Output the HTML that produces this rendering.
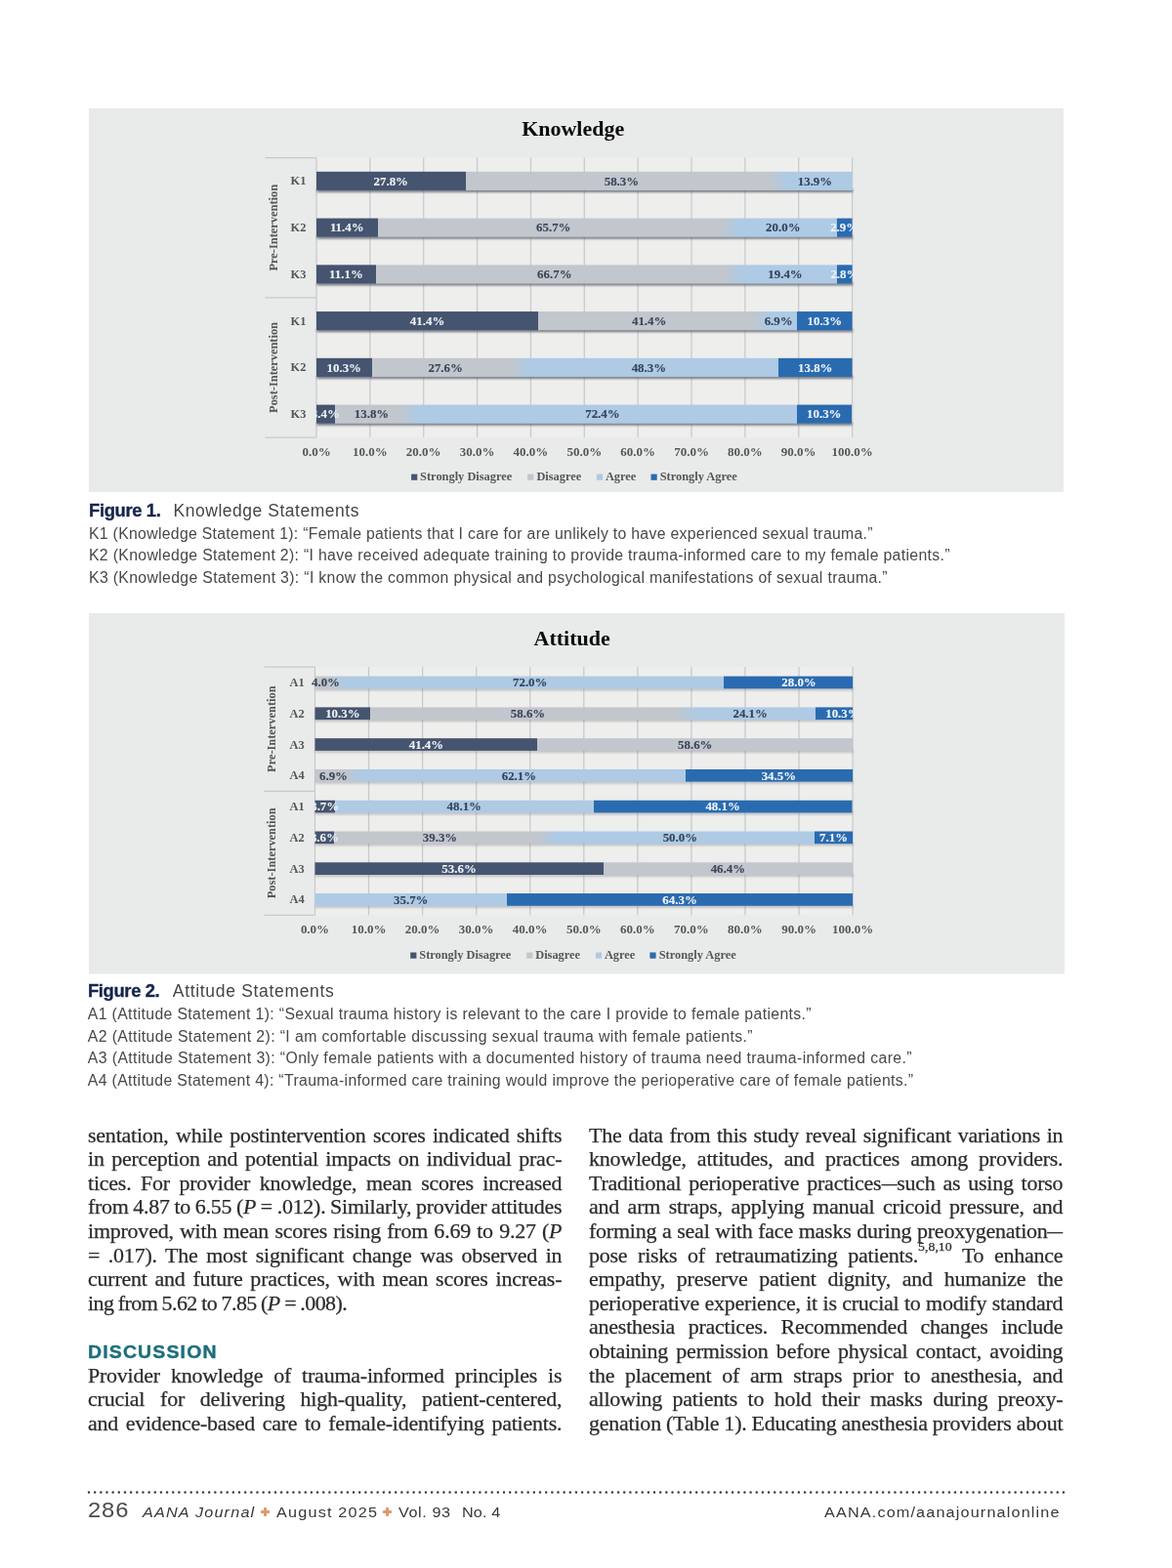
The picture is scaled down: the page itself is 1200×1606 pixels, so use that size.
<!DOCTYPE html>
<html lang="en">
<head>
<meta charset="utf-8">
<title>AANA Journal - Figures 1 and 2</title>
<style>
html,body{margin:0;padding:0;background:#fff;}
figure,figcaption,main,footer{display:block;margin:0;padding:0;position:static;}
body{width:1200px;height:1606px;position:relative;overflow:hidden;font-family:"Liberation Serif", serif;}
.chart{position:absolute;display:block;filter:blur(0.45px);}
.b{position:absolute;transform:scaleX(1.045);transform-origin:0 0;white-space:pre;font-family:"Liberation Serif", serif;font-size:21px;letter-spacing:-0.2px;line-height:24px;color:#2b2b2b;-webkit-text-stroke:0.25px #2b2b2b;}
sup{font-size:0.63em;vertical-align:baseline;position:relative;top:-0.9em;line-height:0;letter-spacing:0}.md{display:inline-block;transform:scaleX(0.72);margin:0 -0.14em;letter-spacing:0}
.h{position:absolute;transform:scaleX(1.04);transform-origin:0 0;white-space:pre;font-family:"Liberation Sans", sans-serif;font-weight:bold;font-size:18.7px;line-height:20px;color:#1d6f7a;-webkit-text-stroke:0.4px #1d6f7a;}
.c{position:absolute;white-space:pre;font-family:"Liberation Sans", sans-serif;font-size:15.8px;line-height:18px;color:#484848;}
.ft{position:absolute;white-space:pre;font-family:"Liberation Sans", sans-serif;line-height:22px;}
.dots{position:absolute;left:0;top:1524px;width:1200px;height:9px;display:block;}
.plus{position:absolute;width:9px;height:9px;}
.plus:before,.plus:after{content:"";position:absolute;background:#dd9a6e;border-radius:0.8px;}
.plus:before{left:3.1px;top:0;width:2.8px;height:9px;}
.plus:after{left:0;top:3.1px;width:9px;height:2.8px;}
</style>
</head>
<body>
<figure>
<svg class="chart" style="left:90.5px;top:111px" width="998.5" height="393" viewBox="90.5 111 998.5 393" font-family='"Liberation Serif", serif' font-weight="bold" font-size="12.4">
<defs><clipPath id="clipK"><rect x="90.5" y="111" width="783.2" height="393"/></clipPath><clipPath id="clipwK"><rect x="322.9" y="111" width="550.8" height="393"/></clipPath><filter id="shK" x="-5%" y="-100%" width="110%" height="300%"><feGaussianBlur stdDeviation="0.8"/></filter></defs>
<rect x="90.5" y="111" width="998.5" height="393" fill="#e9eaea"/>
<rect x="323.5" y="161.5" width="548.6" height="286.5" fill="#eeeeed"/>
<text x="586.2" y="139.3" font-size="22" text-anchor="middle" fill="#0c0c0c">Knowledge</text>
<line x1="323.5" y1="161.5" x2="323.5" y2="448" stroke="#c8c9c9" stroke-width="1.25"/>
<text x="323.5" y="466.7" font-size="13" text-anchor="middle" fill="#555657">0.0%</text>
<line x1="378.36" y1="161.5" x2="378.36" y2="448" stroke="#c8c9c9" stroke-width="1.25"/>
<text x="378.36" y="466.7" font-size="13" text-anchor="middle" fill="#555657">10.0%</text>
<line x1="433.22" y1="161.5" x2="433.22" y2="448" stroke="#c8c9c9" stroke-width="1.25"/>
<text x="433.22" y="466.7" font-size="13" text-anchor="middle" fill="#555657">20.0%</text>
<line x1="488.08" y1="161.5" x2="488.08" y2="448" stroke="#c8c9c9" stroke-width="1.25"/>
<text x="488.08" y="466.7" font-size="13" text-anchor="middle" fill="#555657">30.0%</text>
<line x1="542.94" y1="161.5" x2="542.94" y2="448" stroke="#c8c9c9" stroke-width="1.25"/>
<text x="542.94" y="466.7" font-size="13" text-anchor="middle" fill="#555657">40.0%</text>
<line x1="597.8" y1="161.5" x2="597.8" y2="448" stroke="#c8c9c9" stroke-width="1.25"/>
<text x="597.8" y="466.7" font-size="13" text-anchor="middle" fill="#555657">50.0%</text>
<line x1="652.66" y1="161.5" x2="652.66" y2="448" stroke="#c8c9c9" stroke-width="1.25"/>
<text x="652.66" y="466.7" font-size="13" text-anchor="middle" fill="#555657">60.0%</text>
<line x1="707.52" y1="161.5" x2="707.52" y2="448" stroke="#c8c9c9" stroke-width="1.25"/>
<text x="707.52" y="466.7" font-size="13" text-anchor="middle" fill="#555657">70.0%</text>
<line x1="762.38" y1="161.5" x2="762.38" y2="448" stroke="#c8c9c9" stroke-width="1.25"/>
<text x="762.38" y="466.7" font-size="13" text-anchor="middle" fill="#555657">80.0%</text>
<line x1="817.24" y1="161.5" x2="817.24" y2="448" stroke="#c8c9c9" stroke-width="1.25"/>
<text x="817.24" y="466.7" font-size="13" text-anchor="middle" fill="#555657">90.0%</text>
<line x1="872.1" y1="161.5" x2="872.1" y2="448" stroke="#c8c9c9" stroke-width="1.25"/>
<text x="872.1" y="466.7" font-size="13" text-anchor="middle" fill="#555657">100.0%</text>
<line x1="271" y1="161.5" x2="323.5" y2="161.5" stroke="#c8c9c9" stroke-width="1.25"/>
<line x1="271" y1="304.9" x2="323.5" y2="304.9" stroke="#c8c9c9" stroke-width="1.25"/>
<line x1="271" y1="448" x2="323.5" y2="448" stroke="#c8c9c9" stroke-width="1.25"/>
<text transform="translate(283 233.2) rotate(-90)" text-anchor="middle" fill="#555657">Pre-Intervention</text>
<text transform="translate(283 376.45) rotate(-90)" text-anchor="middle" fill="#555657">Post-Intervention</text>
<text x="305" y="189.47" text-anchor="middle" fill="#555657">K1</text>
<rect x="324" y="193.92" width="548.6" height="2.9" fill="#5d6370" opacity="0.9" filter="url(#shK)"/>
<linearGradient id="gK0" gradientUnits="userSpaceOnUse" x1="323.5" y1="0" x2="872.1" y2="0"><stop offset="0.0000" stop-color="#45546f"/><stop offset="0.2780" stop-color="#45546f"/><stop offset="0.2780" stop-color="#c2c6cd"/><stop offset="0.8446" stop-color="#c2c6cd"/><stop offset="0.8774" stop-color="#aecae4"/><stop offset="1.0000" stop-color="#aecae4"/></linearGradient>
<rect x="323.5" y="175.82" width="548.6" height="19.1" fill="url(#gK0)"/>
<g clip-path="url(#clipK)" font-size="12.9" text-anchor="middle" stroke-width="0.12">
<text x="635.93" y="189.68" fill="#3b4658" stroke="#3b4658">58.3%</text>
<text x="833.97" y="189.68" fill="#34445c" stroke="#34445c">13.9%</text>
</g>
<g clip-path="url(#clipwK)" font-size="12.9" text-anchor="middle" stroke-width="0.12">
<text x="399.76" y="189.68" fill="#eef1f6" stroke="#eef1f6">27.8%</text>
</g>
<text x="305" y="237.22" text-anchor="middle" fill="#555657">K2</text>
<rect x="324" y="241.67" width="548.6" height="2.9" fill="#5d6370" opacity="0.9" filter="url(#shK)"/>
<linearGradient id="gK1" gradientUnits="userSpaceOnUse" x1="323.5" y1="0" x2="872.1" y2="0"><stop offset="0.0000" stop-color="#45546f"/><stop offset="0.1140" stop-color="#45546f"/><stop offset="0.1140" stop-color="#c2c6cd"/><stop offset="0.7546" stop-color="#c2c6cd"/><stop offset="0.7874" stop-color="#aecae4"/><stop offset="0.9710" stop-color="#aecae4"/><stop offset="0.9710" stop-color="#2a6bb0"/><stop offset="1.0000" stop-color="#2a6bb0"/></linearGradient>
<rect x="323.5" y="223.57" width="548.6" height="19.1" fill="url(#gK1)"/>
<g clip-path="url(#clipK)" font-size="12.9" text-anchor="middle" stroke-width="0.12">
<text x="566.26" y="237.43" fill="#3b4658" stroke="#3b4658">65.7%</text>
<text x="801.33" y="237.43" fill="#34445c" stroke="#34445c">20.0%</text>
</g>
<g clip-path="url(#clipwK)" font-size="12.9" text-anchor="middle" stroke-width="0.12">
<text x="354.77" y="237.43" fill="#eef1f6" stroke="#eef1f6">11.4%</text>
<text x="864.15" y="237.43" fill="#eef4fc" stroke="#eef4fc">2.9%</text>
</g>
<text x="305" y="284.98" text-anchor="middle" fill="#555657">K3</text>
<rect x="324" y="289.43" width="548.6" height="2.9" fill="#5d6370" opacity="0.9" filter="url(#shK)"/>
<linearGradient id="gK2" gradientUnits="userSpaceOnUse" x1="323.5" y1="0" x2="872.1" y2="0"><stop offset="0.0000" stop-color="#45546f"/><stop offset="0.1110" stop-color="#45546f"/><stop offset="0.1110" stop-color="#c2c6cd"/><stop offset="0.7616" stop-color="#c2c6cd"/><stop offset="0.7944" stop-color="#aecae4"/><stop offset="0.9720" stop-color="#aecae4"/><stop offset="0.9720" stop-color="#2a6bb0"/><stop offset="1.0000" stop-color="#2a6bb0"/></linearGradient>
<rect x="323.5" y="271.32" width="548.6" height="19.1" fill="url(#gK2)"/>
<g clip-path="url(#clipK)" font-size="12.9" text-anchor="middle" stroke-width="0.12">
<text x="567.35" y="285.18" fill="#3b4658" stroke="#3b4658">66.7%</text>
<text x="803.53" y="285.18" fill="#34445c" stroke="#34445c">19.4%</text>
</g>
<g clip-path="url(#clipwK)" font-size="12.9" text-anchor="middle" stroke-width="0.12">
<text x="353.95" y="285.18" fill="#eef1f6" stroke="#eef1f6">11.1%</text>
<text x="864.42" y="285.18" fill="#eef4fc" stroke="#eef4fc">2.8%</text>
</g>
<text x="305" y="332.73" text-anchor="middle" fill="#555657">K1</text>
<rect x="324" y="337.18" width="548.6" height="2.9" fill="#5d6370" opacity="0.9" filter="url(#shK)"/>
<linearGradient id="gK3" gradientUnits="userSpaceOnUse" x1="323.5" y1="0" x2="872.1" y2="0"><stop offset="0.0000" stop-color="#45546f"/><stop offset="0.4140" stop-color="#45546f"/><stop offset="0.4140" stop-color="#c2c6cd"/><stop offset="0.8116" stop-color="#c2c6cd"/><stop offset="0.8444" stop-color="#aecae4"/><stop offset="0.8970" stop-color="#aecae4"/><stop offset="0.8970" stop-color="#2a6bb0"/><stop offset="1.0000" stop-color="#2a6bb0"/></linearGradient>
<rect x="323.5" y="319.07" width="548.6" height="19.1" fill="url(#gK3)"/>
<g clip-path="url(#clipK)" font-size="12.9" text-anchor="middle" stroke-width="0.12">
<text x="664.18" y="332.93" fill="#3b4658" stroke="#3b4658">41.4%</text>
<text x="796.67" y="332.93" fill="#34445c" stroke="#34445c">6.9%</text>
</g>
<g clip-path="url(#clipwK)" font-size="12.9" text-anchor="middle" stroke-width="0.12">
<text x="437.06" y="332.93" fill="#eef1f6" stroke="#eef1f6">41.4%</text>
<text x="843.85" y="332.93" fill="#eef4fc" stroke="#eef4fc">10.3%</text>
</g>
<text x="305" y="380.48" text-anchor="middle" fill="#555657">K2</text>
<rect x="324" y="384.93" width="548.6" height="2.9" fill="#5d6370" opacity="0.9" filter="url(#shK)"/>
<linearGradient id="gK4" gradientUnits="userSpaceOnUse" x1="323.5" y1="0" x2="872.1" y2="0"><stop offset="0.0000" stop-color="#45546f"/><stop offset="0.1030" stop-color="#45546f"/><stop offset="0.1030" stop-color="#c2c6cd"/><stop offset="0.3626" stop-color="#c2c6cd"/><stop offset="0.3954" stop-color="#aecae4"/><stop offset="0.8620" stop-color="#aecae4"/><stop offset="0.8620" stop-color="#2a6bb0"/><stop offset="1.0000" stop-color="#2a6bb0"/></linearGradient>
<rect x="323.5" y="366.82" width="548.6" height="19.1" fill="url(#gK4)"/>
<g clip-path="url(#clipK)" font-size="12.9" text-anchor="middle" stroke-width="0.12">
<text x="455.71" y="380.68" fill="#3b4658" stroke="#3b4658">27.6%</text>
<text x="663.91" y="380.68" fill="#34445c" stroke="#34445c">48.3%</text>
</g>
<g clip-path="url(#clipwK)" font-size="12.9" text-anchor="middle" stroke-width="0.12">
<text x="351.75" y="380.68" fill="#eef1f6" stroke="#eef1f6">10.3%</text>
<text x="834.25" y="380.68" fill="#eef4fc" stroke="#eef4fc">13.8%</text>
</g>
<text x="305" y="428.23" text-anchor="middle" fill="#555657">K3</text>
<rect x="324" y="432.68" width="548.05" height="2.9" fill="#5d6370" opacity="0.9" filter="url(#shK)"/>
<linearGradient id="gK5" gradientUnits="userSpaceOnUse" x1="323.5" y1="0" x2="871.55" y2="0"><stop offset="0.0000" stop-color="#45546f"/><stop offset="0.0340" stop-color="#45546f"/><stop offset="0.0340" stop-color="#c2c6cd"/><stop offset="0.1558" stop-color="#c2c6cd"/><stop offset="0.1886" stop-color="#aecae4"/><stop offset="0.8969" stop-color="#aecae4"/><stop offset="0.8969" stop-color="#2a6bb0"/><stop offset="1.0000" stop-color="#2a6bb0"/></linearGradient>
<rect x="323.5" y="414.57" width="548.05" height="19.1" fill="url(#gK5)"/>
<g clip-path="url(#clipK)" font-size="12.9" text-anchor="middle" stroke-width="0.12">
<text x="380.01" y="428.43" fill="#3b4658" stroke="#3b4658">13.8%</text>
<text x="616.45" y="428.43" fill="#34445c" stroke="#34445c">72.4%</text>
</g>
<g clip-path="url(#clipwK)" font-size="12.9" text-anchor="middle" stroke-width="0.12">
<text x="332.83" y="428.43" fill="#eef1f6" stroke="#eef1f6">3.4%</text>
<text x="843.3" y="428.43" fill="#eef4fc" stroke="#eef4fc">10.3%</text>
</g>
<rect x="420.6" y="485.6" width="6.2" height="6.2" fill="#45546f"/>
<text x="429.6" y="491.9" fill="#555657">Strongly Disagree</text>
<rect x="539.6" y="485.6" width="6.2" height="6.2" fill="#c2c6cd"/>
<text x="548.9" y="491.9" fill="#555657">Disagree</text>
<rect x="610.4" y="485.6" width="6.2" height="6.2" fill="#aecae4"/>
<text x="619.4" y="491.9" fill="#555657">Agree</text>
<rect x="666" y="485.6" width="6.2" height="6.2" fill="#2a6bb0"/>
<text x="675.2" y="491.9" fill="#555657">Strongly Agree</text>
</svg>
<figcaption>
<div class="ft" style="left:90.7px;top:512.24px;font-size:17.5px;letter-spacing:-0.331px;color:#14264d;font-weight:bold;transform:scaleX(1.05);transform-origin:0 0;-webkit-text-stroke:0.35px #14264d;">Figure 1.</div>
<div class="ft" style="left:177.5px;top:512.24px;font-size:17.5px;letter-spacing:0.527px;color:#454545;">Knowledge Statements</div>
<div class="c" style="left:91px;top:538.08px;letter-spacing:0.301px">K1 (Knowledge Statement 1): “Female patients that I care for are unlikely to have experienced sexual trauma.”</div>
<div class="c" style="left:91px;top:560.08px;letter-spacing:0.329px">K2 (Knowledge Statement 2): “I have received adequate training to provide trauma-informed care to my female patients.”</div>
<div class="c" style="left:91px;top:583.08px;letter-spacing:0.341px">K3 (Knowledge Statement 3): “I know the common physical and psychological manifestations of sexual trauma.”</div>
</figcaption>
</figure>
<figure>
<svg class="chart" style="left:90.5px;top:628px" width="999.2" height="369.5" viewBox="90.5 628 999.2 369.5" font-family='"Liberation Serif", serif' font-weight="bold" font-size="12.4">
<defs><clipPath id="clipA"><rect x="90.5" y="628" width="783.7" height="369.5"/></clipPath><clipPath id="clipwA"><rect x="321.4" y="628" width="552.8" height="369.5"/></clipPath><filter id="shA" x="-5%" y="-100%" width="110%" height="300%"><feGaussianBlur stdDeviation="0.8"/></filter></defs>
<rect x="90.5" y="628" width="999.2" height="369.5" fill="#e9eaea"/>
<rect x="322" y="683.1" width="550.6" height="254.2" fill="#eeeeed"/>
<text x="585.2" y="661.2" font-size="22" text-anchor="middle" fill="#0c0c0c">Attitude</text>
<line x1="322" y1="683.1" x2="322" y2="937.3" stroke="#c8c9c9" stroke-width="1.25"/>
<text x="322" y="956" font-size="13" text-anchor="middle" fill="#555657">0.0%</text>
<line x1="377.06" y1="683.1" x2="377.06" y2="937.3" stroke="#c8c9c9" stroke-width="1.25"/>
<text x="377.06" y="956" font-size="13" text-anchor="middle" fill="#555657">10.0%</text>
<line x1="432.12" y1="683.1" x2="432.12" y2="937.3" stroke="#c8c9c9" stroke-width="1.25"/>
<text x="432.12" y="956" font-size="13" text-anchor="middle" fill="#555657">20.0%</text>
<line x1="487.18" y1="683.1" x2="487.18" y2="937.3" stroke="#c8c9c9" stroke-width="1.25"/>
<text x="487.18" y="956" font-size="13" text-anchor="middle" fill="#555657">30.0%</text>
<line x1="542.24" y1="683.1" x2="542.24" y2="937.3" stroke="#c8c9c9" stroke-width="1.25"/>
<text x="542.24" y="956" font-size="13" text-anchor="middle" fill="#555657">40.0%</text>
<line x1="597.3" y1="683.1" x2="597.3" y2="937.3" stroke="#c8c9c9" stroke-width="1.25"/>
<text x="597.3" y="956" font-size="13" text-anchor="middle" fill="#555657">50.0%</text>
<line x1="652.36" y1="683.1" x2="652.36" y2="937.3" stroke="#c8c9c9" stroke-width="1.25"/>
<text x="652.36" y="956" font-size="13" text-anchor="middle" fill="#555657">60.0%</text>
<line x1="707.42" y1="683.1" x2="707.42" y2="937.3" stroke="#c8c9c9" stroke-width="1.25"/>
<text x="707.42" y="956" font-size="13" text-anchor="middle" fill="#555657">70.0%</text>
<line x1="762.48" y1="683.1" x2="762.48" y2="937.3" stroke="#c8c9c9" stroke-width="1.25"/>
<text x="762.48" y="956" font-size="13" text-anchor="middle" fill="#555657">80.0%</text>
<line x1="817.54" y1="683.1" x2="817.54" y2="937.3" stroke="#c8c9c9" stroke-width="1.25"/>
<text x="817.54" y="956" font-size="13" text-anchor="middle" fill="#555657">90.0%</text>
<line x1="872.6" y1="683.1" x2="872.6" y2="937.3" stroke="#c8c9c9" stroke-width="1.25"/>
<text x="872.6" y="956" font-size="13" text-anchor="middle" fill="#555657">100.0%</text>
<line x1="270" y1="683.1" x2="322" y2="683.1" stroke="#c8c9c9" stroke-width="1.25"/>
<line x1="270" y1="810.3" x2="322" y2="810.3" stroke="#c8c9c9" stroke-width="1.25"/>
<line x1="270" y1="937.3" x2="322" y2="937.3" stroke="#c8c9c9" stroke-width="1.25"/>
<text transform="translate(281.6 746.7) rotate(-90)" text-anchor="middle" fill="#555657">Pre-Intervention</text>
<text transform="translate(281.6 873.8) rotate(-90)" text-anchor="middle" fill="#555657">Post-Intervention</text>
<text x="303.6" y="703.09" text-anchor="middle" fill="#555657">A1</text>
<rect x="322.5" y="704.34" width="550.6" height="2.9" fill="#5d6370" opacity="0.35" filter="url(#shA)"/>
<linearGradient id="gA0" gradientUnits="userSpaceOnUse" x1="322" y1="0" x2="872.6" y2="0"><stop offset="0.0000" stop-color="#c2c6cd"/><stop offset="0.0237" stop-color="#c2c6cd"/><stop offset="0.0563" stop-color="#aecae4"/><stop offset="0.7600" stop-color="#aecae4"/><stop offset="0.7600" stop-color="#2a6bb0"/><stop offset="1.0000" stop-color="#2a6bb0"/></linearGradient>
<rect x="322" y="692.63" width="550.6" height="12.71" fill="url(#gA0)"/>
<g clip-path="url(#clipA)" font-size="12.9" text-anchor="middle" stroke-width="0.12">
<text x="333.01" y="703.29" fill="#3b4658" stroke="#3b4658">4.0%</text>
<text x="542.24" y="703.29" fill="#34445c" stroke="#34445c">72.0%</text>
</g>
<g clip-path="url(#clipwA)" font-size="12.9" text-anchor="middle" stroke-width="0.12">
<text x="817.54" y="703.29" fill="#eef4fc" stroke="#eef4fc">28.0%</text>
</g>
<text x="303.6" y="734.86" text-anchor="middle" fill="#555657">A2</text>
<rect x="322.5" y="736.12" width="550.6" height="2.9" fill="#5d6370" opacity="0.35" filter="url(#shA)"/>
<linearGradient id="gA1" gradientUnits="userSpaceOnUse" x1="322" y1="0" x2="872.6" y2="0"><stop offset="0.0000" stop-color="#45546f"/><stop offset="0.1030" stop-color="#45546f"/><stop offset="0.1030" stop-color="#c2c6cd"/><stop offset="0.6727" stop-color="#c2c6cd"/><stop offset="0.7053" stop-color="#aecae4"/><stop offset="0.9300" stop-color="#aecae4"/><stop offset="0.9300" stop-color="#2a6bb0"/><stop offset="1.0000" stop-color="#2a6bb0"/></linearGradient>
<rect x="322" y="724.41" width="550.6" height="12.71" fill="url(#gA1)"/>
<g clip-path="url(#clipA)" font-size="12.9" text-anchor="middle" stroke-width="0.12">
<text x="540.04" y="735.06" fill="#3b4658" stroke="#3b4658">58.6%</text>
<text x="767.71" y="735.06" fill="#34445c" stroke="#34445c">24.1%</text>
</g>
<g clip-path="url(#clipwA)" font-size="12.9" text-anchor="middle" stroke-width="0.12">
<text x="350.36" y="735.06" fill="#eef1f6" stroke="#eef1f6">10.3%</text>
<text x="862.41" y="735.06" fill="#eef4fc" stroke="#eef4fc">10.3%</text>
</g>
<text x="303.6" y="766.64" text-anchor="middle" fill="#555657">A3</text>
<rect x="322.5" y="767.89" width="550.6" height="2.9" fill="#5d6370" opacity="0.35" filter="url(#shA)"/>
<linearGradient id="gA2" gradientUnits="userSpaceOnUse" x1="322" y1="0" x2="872.6" y2="0"><stop offset="0.0000" stop-color="#45546f"/><stop offset="0.4140" stop-color="#45546f"/><stop offset="0.4140" stop-color="#c2c6cd"/><stop offset="1.0000" stop-color="#c2c6cd"/></linearGradient>
<rect x="322" y="756.18" width="550.6" height="12.71" fill="url(#gA2)"/>
<g clip-path="url(#clipA)" font-size="12.9" text-anchor="middle" stroke-width="0.12">
<text x="711.27" y="766.84" fill="#3b4658" stroke="#3b4658">58.6%</text>
</g>
<g clip-path="url(#clipwA)" font-size="12.9" text-anchor="middle" stroke-width="0.12">
<text x="435.97" y="766.84" fill="#eef1f6" stroke="#eef1f6">41.4%</text>
</g>
<text x="303.6" y="798.41" text-anchor="middle" fill="#555657">A4</text>
<rect x="322.5" y="799.67" width="550.6" height="2.9" fill="#5d6370" opacity="0.35" filter="url(#shA)"/>
<linearGradient id="gA3" gradientUnits="userSpaceOnUse" x1="322" y1="0" x2="872.6" y2="0"><stop offset="0.0000" stop-color="#c2c6cd"/><stop offset="0.0527" stop-color="#c2c6cd"/><stop offset="0.0853" stop-color="#aecae4"/><stop offset="0.6900" stop-color="#aecae4"/><stop offset="0.6900" stop-color="#2a6bb0"/><stop offset="1.0000" stop-color="#2a6bb0"/></linearGradient>
<rect x="322" y="787.96" width="550.6" height="12.71" fill="url(#gA3)"/>
<g clip-path="url(#clipA)" font-size="12.9" text-anchor="middle" stroke-width="0.12">
<text x="341" y="798.61" fill="#3b4658" stroke="#3b4658">6.9%</text>
<text x="530.95" y="798.61" fill="#34445c" stroke="#34445c">62.1%</text>
</g>
<g clip-path="url(#clipwA)" font-size="12.9" text-anchor="middle" stroke-width="0.12">
<text x="796.89" y="798.61" fill="#eef4fc" stroke="#eef4fc">34.5%</text>
</g>
<text x="303.6" y="830.19" text-anchor="middle" fill="#555657">A1</text>
<rect x="322.5" y="831.44" width="550.05" height="2.9" fill="#5d6370" opacity="0.35" filter="url(#shA)"/>
<linearGradient id="gA4" gradientUnits="userSpaceOnUse" x1="322" y1="0" x2="872.05" y2="0"><stop offset="0.0000" stop-color="#45546f"/><stop offset="0.0370" stop-color="#45546f"/><stop offset="0.0370" stop-color="#aecae4"/><stop offset="0.5185" stop-color="#aecae4"/><stop offset="0.5185" stop-color="#2a6bb0"/><stop offset="1.0000" stop-color="#2a6bb0"/></linearGradient>
<rect x="322" y="819.73" width="550.05" height="12.71" fill="url(#gA4)"/>
<g clip-path="url(#clipA)" font-size="12.9" text-anchor="middle" stroke-width="0.12">
<text x="474.79" y="830.39" fill="#34445c" stroke="#34445c">48.1%</text>
</g>
<g clip-path="url(#clipwA)" font-size="12.9" text-anchor="middle" stroke-width="0.12">
<text x="332.19" y="830.39" fill="#eef1f6" stroke="#eef1f6">3.7%</text>
<text x="739.63" y="830.39" fill="#eef4fc" stroke="#eef4fc">48.1%</text>
</g>
<text x="303.6" y="861.96" text-anchor="middle" fill="#555657">A2</text>
<rect x="322.5" y="863.22" width="550.6" height="2.9" fill="#5d6370" opacity="0.35" filter="url(#shA)"/>
<linearGradient id="gA5" gradientUnits="userSpaceOnUse" x1="322" y1="0" x2="872.6" y2="0"><stop offset="0.0000" stop-color="#45546f"/><stop offset="0.0360" stop-color="#45546f"/><stop offset="0.0360" stop-color="#c2c6cd"/><stop offset="0.4127" stop-color="#c2c6cd"/><stop offset="0.4453" stop-color="#aecae4"/><stop offset="0.9290" stop-color="#aecae4"/><stop offset="0.9290" stop-color="#2a6bb0"/><stop offset="1.0000" stop-color="#2a6bb0"/></linearGradient>
<rect x="322" y="851.51" width="550.6" height="12.71" fill="url(#gA5)"/>
<g clip-path="url(#clipA)" font-size="12.9" text-anchor="middle" stroke-width="0.12">
<text x="450.01" y="862.16" fill="#3b4658" stroke="#3b4658">39.3%</text>
<text x="695.86" y="862.16" fill="#34445c" stroke="#34445c">50.0%</text>
</g>
<g clip-path="url(#clipwA)" font-size="12.9" text-anchor="middle" stroke-width="0.12">
<text x="331.91" y="862.16" fill="#eef1f6" stroke="#eef1f6">3.6%</text>
<text x="853.05" y="862.16" fill="#eef4fc" stroke="#eef4fc">7.1%</text>
</g>
<text x="303.6" y="893.74" text-anchor="middle" fill="#555657">A3</text>
<rect x="322.5" y="894.99" width="550.6" height="2.9" fill="#5d6370" opacity="0.35" filter="url(#shA)"/>
<linearGradient id="gA6" gradientUnits="userSpaceOnUse" x1="322" y1="0" x2="872.6" y2="0"><stop offset="0.0000" stop-color="#45546f"/><stop offset="0.5360" stop-color="#45546f"/><stop offset="0.5360" stop-color="#c2c6cd"/><stop offset="1.0000" stop-color="#c2c6cd"/></linearGradient>
<rect x="322" y="883.28" width="550.6" height="12.71" fill="url(#gA6)"/>
<g clip-path="url(#clipA)" font-size="12.9" text-anchor="middle" stroke-width="0.12">
<text x="744.86" y="893.94" fill="#3b4658" stroke="#3b4658">46.4%</text>
</g>
<g clip-path="url(#clipwA)" font-size="12.9" text-anchor="middle" stroke-width="0.12">
<text x="469.56" y="893.94" fill="#eef1f6" stroke="#eef1f6">53.6%</text>
</g>
<text x="303.6" y="925.51" text-anchor="middle" fill="#555657">A4</text>
<rect x="322.5" y="926.77" width="550.6" height="2.9" fill="#5d6370" opacity="0.35" filter="url(#shA)"/>
<linearGradient id="gA7" gradientUnits="userSpaceOnUse" x1="322" y1="0" x2="872.6" y2="0"><stop offset="0.0000" stop-color="#aecae4"/><stop offset="0.3570" stop-color="#aecae4"/><stop offset="0.3570" stop-color="#2a6bb0"/><stop offset="1.0000" stop-color="#2a6bb0"/></linearGradient>
<rect x="322" y="915.06" width="550.6" height="12.71" fill="url(#gA7)"/>
<g clip-path="url(#clipA)" font-size="12.9" text-anchor="middle" stroke-width="0.12">
<text x="420.28" y="925.71" fill="#34445c" stroke="#34445c">35.7%</text>
</g>
<g clip-path="url(#clipwA)" font-size="12.9" text-anchor="middle" stroke-width="0.12">
<text x="695.58" y="925.71" fill="#eef4fc" stroke="#eef4fc">64.3%</text>
</g>
<rect x="419.7" y="975.5" width="6.2" height="6.2" fill="#45546f"/>
<text x="428.8" y="981.8" fill="#555657">Strongly Disagree</text>
<rect x="538.7" y="975.5" width="6.2" height="6.2" fill="#c2c6cd"/>
<text x="547.7" y="981.8" fill="#555657">Disagree</text>
<rect x="609.4" y="975.5" width="6.2" height="6.2" fill="#aecae4"/>
<text x="618.4" y="981.8" fill="#555657">Agree</text>
<rect x="664.9" y="975.5" width="6.2" height="6.2" fill="#2a6bb0"/>
<text x="674.2" y="981.8" fill="#555657">Strongly Agree</text>
</svg>
<figcaption>
<div class="ft" style="left:90.1px;top:1004.24px;font-size:17.5px;letter-spacing:-0.343px;color:#14264d;font-weight:bold;transform:scaleX(1.05);transform-origin:0 0;-webkit-text-stroke:0.35px #14264d;">Figure 2.</div>
<div class="ft" style="left:176.8px;top:1004.24px;font-size:17.5px;letter-spacing:0.681px;color:#454545;">Attitude Statements</div>
<div class="c" style="left:89.8px;top:1030.08px;letter-spacing:0.364px">A1 (Attitude Statement 1): “Sexual trauma history is relevant to the care I provide to female patients.”</div>
<div class="c" style="left:89.8px;top:1053.08px;letter-spacing:0.399px">A2 (Attitude Statement 2): “I am comfortable discussing sexual trauma with female patients.”</div>
<div class="c" style="left:89.8px;top:1075.08px;letter-spacing:0.403px">A3 (Attitude Statement 3): “Only female patients with a documented history of trauma need trauma-informed care.”</div>
<div class="c" style="left:89.8px;top:1098.08px;letter-spacing:0.349px">A4 (Attitude Statement 4): “Trauma-informed care training would improve the perioperative care of female patients.”</div>
</figcaption>
</figure>
<main>
<div class="b" style="left:89.5px;top:1150.61px;word-spacing:2.076px">sentation, while postintervention scores indicated shifts</div>
<div class="b" style="left:89.5px;top:1175.21px;word-spacing:2.181px">in perception and potential impacts on individual prac-</div>
<div class="b" style="left:89.5px;top:1199.81px;word-spacing:4.102px">tices. For provider knowledge, mean scores increased</div>
<div class="b" style="left:89.5px;top:1224.41px;word-spacing:-0.500px;letter-spacing:-0.239px">from 4.87 to 6.55 (<i>P</i> = .012). Similarly, provider attitudes</div>
<div class="b" style="left:89.5px;top:1249.01px;word-spacing:0.955px">improved, with mean scores rising from 6.69 to 9.27 (<i>P</i></div>
<div class="b" style="left:89.5px;top:1273.61px;word-spacing:3.241px">= .017). The most significant change was observed in</div>
<div class="b" style="left:89.5px;top:1298.21px;word-spacing:2.442px">current and future practices, with mean scores increas-</div>
<div class="b" style="left:89.5px;top:1322.81px;word-spacing:-0.500px;letter-spacing:-0.534px">ing from 5.62 to 7.85 (<i>P</i> = .008).</div>
<div class="h" style="left:90.4px;top:1374.82px;letter-spacing:1.127px">DISCUSSION</div>
<div class="b" style="left:89.5px;top:1396.61px;word-spacing:5.457px">Provider knowledge of trauma-informed principles is</div>
<div class="b" style="left:89.5px;top:1421.21px;word-spacing:10.098px">crucial for delivering high-quality, patient-centered,</div>
<div class="b" style="left:89.5px;top:1445.81px;word-spacing:2.254px">and evidence-based care to female-identifying patients.</div>
<div class="b" style="left:602.6px;top:1150.61px;word-spacing:1.313px">The data from this study reveal significant variations in</div>
<div class="b" style="left:602.6px;top:1175.21px;word-spacing:5.635px">knowledge, attitudes, and practices among providers.</div>
<div class="b" style="left:602.6px;top:1199.81px;word-spacing:2.492px">Traditional perioperative practices<span class=md>—</span>such as using torso</div>
<div class="b" style="left:602.6px;top:1224.41px;word-spacing:3.139px">and arm straps, applying manual cricoid pressure, and</div>
<div class="b" style="left:602.6px;top:1249.01px;word-spacing:0.449px">forming a seal with face masks during preoxygenation<span class=md>—</span></div>
<div class="b" style="left:602.6px;top:1273.61px;word-spacing:5.131px">pose risks of retraumatizing patients.<sup>5,8,10</sup> To enhance</div>
<div class="b" style="left:602.6px;top:1298.21px;word-spacing:6.287px">empathy, preserve patient dignity, and humanize the</div>
<div class="b" style="left:602.6px;top:1322.81px;word-spacing:0.206px">perioperative experience, it is crucial to modify standard</div>
<div class="b" style="left:602.6px;top:1347.41px;word-spacing:7.927px">anesthesia practices. Recommended changes include</div>
<div class="b" style="left:602.6px;top:1372.01px;word-spacing:2.913px">obtaining permission before physical contact, avoiding</div>
<div class="b" style="left:602.6px;top:1396.61px;word-spacing:5.348px">the placement of arm straps prior to anesthesia, and</div>
<div class="b" style="left:602.6px;top:1421.21px;word-spacing:4.934px">allowing patients to hold their masks during preoxy-</div>
<div class="b" style="left:602.6px;top:1445.81px;word-spacing:-0.267px">genation (Table 1). Educating anesthesia providers about</div>
</main>
<footer>
<svg class="dots" width="1200" height="9" viewBox="0 1524 1200 9"><line x1="91" y1="1528.55" x2="1090" y2="1528.55" stroke="#2e3f39" stroke-width="2.5" stroke-linecap="round" stroke-dasharray="0 6.16"/></svg>
<div class="ft" style="left:89.9px;top:1535.61px;font-size:22.2px;letter-spacing:0.830px;color:#4a4a4a;transform:scaleX(1.07);transform-origin:0 0;">286</div>
<div class="ft" style="left:146.1px;top:1538px;font-size:15.3px;letter-spacing:1.111px;color:#383838;font-style:italic;transform:scaleX(1.06);transform-origin:0 0;">AANA Journal</div>
<div class="ft" style="left:282.6px;top:1538px;font-size:15.3px;letter-spacing:1.126px;color:#383838;transform:scaleX(1.06);transform-origin:0 0;">August 2025</div>
<div class="ft" style="left:408.3px;top:1538px;font-size:15.3px;letter-spacing:0.552px;color:#383838;transform:scaleX(1.06);transform-origin:0 0;">Vol. 93</div>
<div class="ft" style="left:472.7px;top:1538px;font-size:15.3px;letter-spacing:0.105px;color:#383838;transform:scaleX(1.06);transform-origin:0 0;">No. 4</div>
<div class="ft" style="left:843.9px;top:1538px;font-size:15.3px;letter-spacing:1.082px;color:#383838;transform:scaleX(1.06);transform-origin:0 0;">AANA.com/aanajournalonline</div>
<div class="plus" style="left:266.8px;top:1544.1px"></div>
<div class="plus" style="left:392.0px;top:1544.1px"></div>
</footer>
</body>
</html>
